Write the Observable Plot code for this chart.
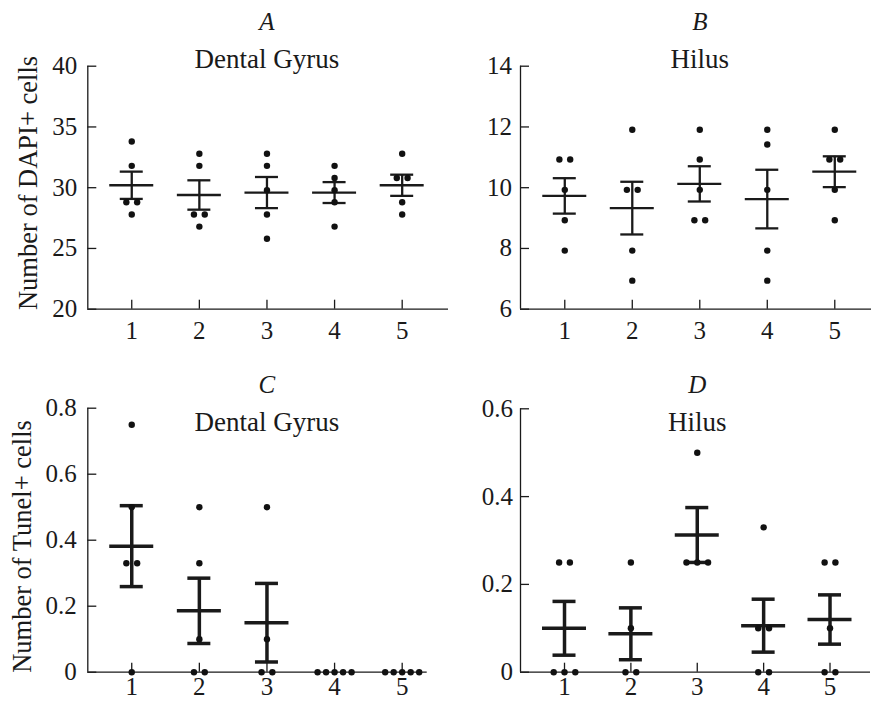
<!DOCTYPE html>
<html><head><meta charset="utf-8">
<script src="https://cdn.jsdelivr.net/npm/d3@7"></script>
<script src="https://cdn.jsdelivr.net/npm/@observablehq/plot@0.6"></script>
<style>
html,body{margin:0;padding:0;background:#fff;overflow:hidden;}
#chart{position:relative;width:871px;height:702px;}
.panel{position:absolute;}
</style></head>
<body><div id="chart"></div>
<script>
// ---- data ----
const groups = [1, 2, 3, 4, 5];
const dapiDentalGyrus = [
  [33.8, 31.8, 28.8, 28.8, 27.8],
  [32.8, 31.8, 27.8, 27.8, 26.8],
  [32.8, 31.8, 29.8, 27.8, 25.8],
  [31.8, 30.8, 29.8, 28.8, 26.8],
  [32.8, 30.8, 30.8, 28.8, 27.8]
];
const dapiHilus = [
  [10.93, 10.93, 9.93, 8.93, 7.93],
  [11.91, 9.93, 9.93, 7.93, 6.94],
  [11.91, 10.93, 9.93, 8.93, 8.93],
  [11.91, 11.42, 9.93, 7.93, 6.94],
  [11.91, 10.93, 10.93, 9.93, 8.93]
];
const tunelDentalGyrus = [
  [0.75, 0.5, 0.33, 0.33, 0],
  [0.5, 0.33, 0.1, 0, 0],
  [0.5, 0.1, 0, 0],
  [0, 0, 0, 0, 0],
  [0, 0, 0, 0, 0]
];
const tunelHilus = [
  [0.25, 0.25, 0, 0, 0],
  [0.25, 0.1, 0, 0],
  [0.5, 0.25, 0.25, 0.25],
  [0.33, 0.1, 0.1, 0, 0],
  [0.25, 0.25, 0.1, 0, 0]
];
const panelLetters = ["A", "B", "C", "D"];
const regionTitles = ["Dental Gyrus", "Hilus", "Dental Gyrus", "Hilus"];
const yLabels = ["Number of DAPI+ cells", "Number of Tunel+ cells"];
const yTicksA = [20, 25, 30, 35, 40];
const yTicksB = [6, 8, 10, 12, 14];
const yTicksC = [0, 0.2, 0.4, 0.6, 0.8];
const yTicksD = [0, 0.2, 0.4, 0.6];

// ---- helpers ----
const FONT = "Liberation Serif, Times New Roman, serif";
const INK = "#1a1a1a";

function pointRows(values, pxPerUnit) {
  const out = [];
  values.forEach((vals, gi) => {
    const counts = d3.rollup(vals, v => v.length, v => v);
    const seen = new Map();
    vals.forEach(v => {
      const k = counts.get(v);
      const i = seen.get(v) || 0;
      seen.set(v, i + 1);
      const spacing = k >= 4 ? 8.5 : 10.8;
      out.push({g: groups[gi], v, off: (i - (k - 1) / 2) * spacing / pxPerUnit});
    });
  });
  return out;
}
function summary(values) {
  return values.map((vals, gi) => {
    const m = d3.mean(vals);
    const sem = vals.length > 1 ? d3.deviation(vals) / Math.sqrt(vals.length) : 0;
    return {g: groups[gi], mean: m, lo: m - sem, hi: m + sem};
  }).filter(d => d.hi > d.lo);
}

function panel(cfg) {
  const mL = cfg.frame[0] - cfg.box[0], mR = cfg.box[0] + cfg.box[2] - cfg.frame[1];
  const mT = cfg.frame[2] - cfg.box[1], mB = cfg.box[1] + cfg.box[3] - cfg.frame[3];
  const pxPerUnit = (cfg.frame[1] - cfg.frame[0]) / (cfg.xDomain[1] - cfg.xDomain[0]);
  const rows = pointRows(cfg.values, pxPerUnit);
  const stats = summary(cfg.values);
  const meanHalf = 22 / pxPerUnit, capHalf = 11.5 / pxPerUnit;
  const sw = cfg.barWidth;
  const textStyle = {fontFamily: FONT, fill: INK, stroke: null};
  const marks = [
    Plot.ruleX([cfg.xDomain[0]], {stroke: INK, strokeWidth: 1.3}),
    Plot.ruleY([cfg.yDomain[0]], {stroke: INK, strokeWidth: 1.3}),
    // inward tick marks (labels drawn separately below)
    Plot.axisY({ticks: cfg.yTicks, tickSize: -9, tickFormat: () => "", stroke: INK, strokeWidth: 1.3, label: null}),
    Plot.axisX({ticks: groups, tickSize: -9, tickFormat: () => "", stroke: INK, strokeWidth: 1.3, label: null}),
    // tick labels
    Plot.text(cfg.yTicks, {y: d => d, frameAnchor: "left", dx: -cfg.yPad, text: d => String(d),
      textAnchor: "end", lineAnchor: "middle", fontSize: 25, ...textStyle}),
    Plot.text(groups, {x: d => d, frameAnchor: "bottom", dy: cfg.xPad, text: d => String(d),
      textAnchor: "middle", lineAnchor: "top", fontSize: 25, ...textStyle}),
    // mean ± SEM
    Plot.ruleX(stats, {x: "g", y1: "lo", y2: "hi", stroke: INK, strokeWidth: sw}),
    Plot.ruleY(stats, {y: "hi", x1: d => d.g - capHalf, x2: d => d.g + capHalf, stroke: INK, strokeWidth: sw}),
    Plot.ruleY(stats, {y: "lo", x1: d => d.g - capHalf, x2: d => d.g + capHalf, stroke: INK, strokeWidth: sw}),
    Plot.ruleY(stats, {y: "mean", x1: d => d.g - meanHalf, x2: d => d.g + meanHalf, stroke: INK, strokeWidth: sw}),
    Plot.dot(rows, {x: d => d.g + d.off, y: "v", r: 3.2, fill: "#111", stroke: null}),
    Plot.text([cfg.letter], {x: () => d3.mean(groups), frameAnchor: "top", dy: cfg.letterDy, text: d => d,
      fontStyle: "italic", fontSize: 25, lineAnchor: "middle", textAnchor: "middle", ...textStyle}),
    Plot.text([cfg.title], {x: () => d3.mean(groups), frameAnchor: "top", dy: cfg.titleDy, text: d => d,
      fontSize: 27, lineAnchor: "middle", textAnchor: "middle", ...textStyle})
  ];
  if (cfg.yLabel) {
    marks.push(Plot.text([cfg.yLabel], {frameAnchor: "left", text: d => d, rotate: -90, dx: cfg.labelDx, dy: cfg.labelDy,
      fontSize: 26.5, lineAnchor: "middle", textAnchor: "middle", ...textStyle}));
  }
  const svg = Plot.plot({
    width: cfg.box[2], height: cfg.box[3],
    marginLeft: mL, marginRight: mR, marginTop: mT, marginBottom: mB,
    x: {domain: cfg.xDomain, axis: null},
    y: {domain: cfg.yDomain, axis: null},
    style: {fontFamily: FONT, background: "transparent", overflow: "visible", color: INK},
    marks
  });
  const div = document.createElement("div");
  div.className = "panel";
  div.style.left = cfg.box[0] + "px";
  div.style.top = cfg.box[1] + "px";
  div.appendChild(svg);
  document.getElementById("chart").appendChild(div);
}

// box: [left, top, width, height]; frame: [x0, x1, y0(top), y1(bottom)] in page px
panel({values: dapiDentalGyrus, box: [0, 0, 470, 355], frame: [87.3, 448, 65.7, 308.7],
  xDomain: [0.35, 5.685], yDomain: [20, 40], yTicks: yTicksA, yPad: 10.5, xPad: 12, barWidth: 2.3,
  letter: panelLetters[0], title: regionTitles[0], letterDy: -43.7, titleDy: -6.7,
  yLabel: yLabels[0], labelDx: -59.3, labelDy: -4.7});
panel({values: dapiHilus, box: [470, 0, 401, 355], frame: [520, 871, 65.7, 308.7],
  xDomain: [0.344, 5.544], yDomain: [6, 14], yTicks: yTicksB, yPad: 8.5, xPad: 12, barWidth: 2.3,
  letter: panelLetters[1], title: regionTitles[1], letterDy: -43.7, titleDy: -6.7});
panel({values: tunelDentalGyrus, box: [0, 355, 470, 347], frame: [87.3, 426.7, 407.7, 671.7],
  xDomain: [0.35, 5.37], yDomain: [0, 0.8], yTicks: yTicksC, yPad: 11, xPad: 5, barWidth: 3.5,
  letter: panelLetters[2], title: regionTitles[2], letterDy: -23.2, titleDy: 13.8,
  yLabel: yLabels[1], labelDx: -64.8, labelDy: 6.3});
panel({values: tunelHilus, box: [470, 355, 401, 347], frame: [520, 870, 408.3, 671.7],
  xDomain: [0.337, 5.61], yDomain: [0, 0.6], yTicks: yTicksD, yPad: 7.5, xPad: 5, barWidth: 3.5,
  letter: panelLetters[3], title: regionTitles[3], letterDy: -23.8, titleDy: 13.2});
</script>
</body></html>
